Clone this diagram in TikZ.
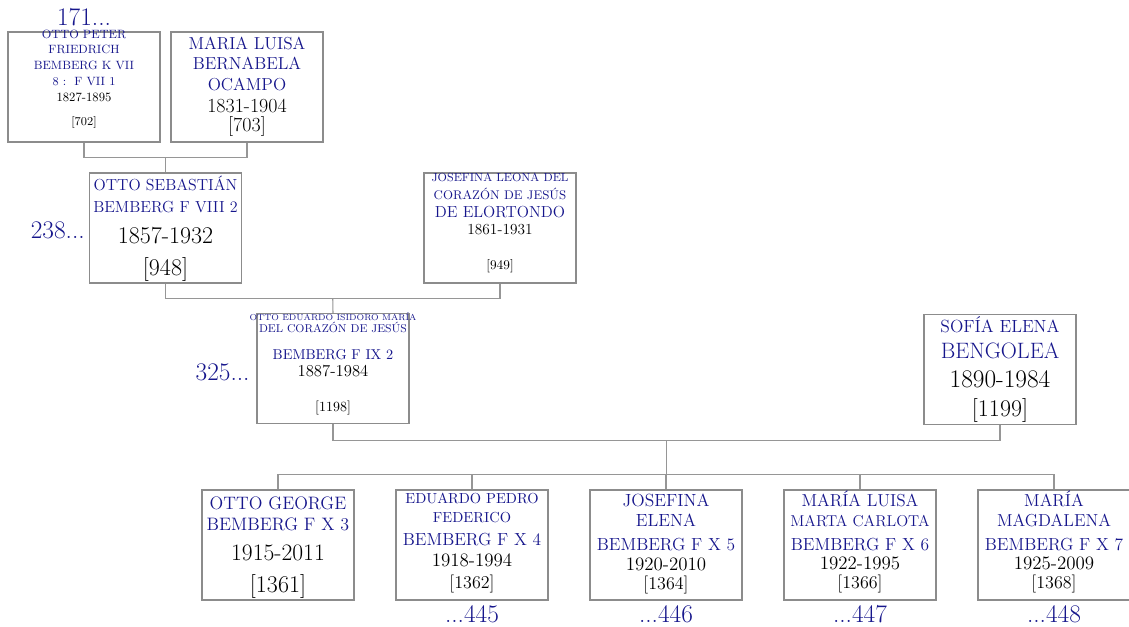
\documentclass[tikz,border=0pt]{standalone}
\usepackage{xcolor}
\usepackage{tikz}
\usetikzlibrary{positioning, calc}

\definecolor{nameblue}{RGB}{22,22,140}
\definecolor{boxgray}{RGB}{140,140,140}
\definecolor{linkgray}{RGB}{150,150,150}

\newcommand{\fsz}[1]{\fontsize{#1}{#1}\selectfont}
\newcommand{\nm}[2]{{\fsz{#1}\color{nameblue}#2}}
\newcommand{\dt}[2]{{\fsz{#1}#2}}
\newcommand{\tightlines}{\baselineskip=0pt\lineskip=0pt\lineskiplimit=-\maxdimen}

\begin{document}
\begin{tikzpicture}[
    x=0.75pt, y=-0.75pt,
    node distance=30.7pt,
    personbox/.style={draw=boxgray, line width=0.8pt, fill=white, minimum width=114pt, minimum height=82.5pt, inner sep=0pt},
    persontext/.style={inner sep=0pt, align=center, font=\tightlines},
    genlabel/.style={inner sep=0pt, text=nameblue, font=\fsz{19}},
    link/.style={draw=linkgray, line width=0.8pt}
]

\path[use as bounding box, fill=white] (0,0) rectangle (1129,626);

\node[personbox] (opeter) at (84,87) {};
\node[personbox] (mluisa) at (247,87) {};
\node[personbox] (osebastian) at (165.5,228) {};
\node[personbox] (jleona) at (500,228) {};
\node[personbox] (oeduardo) at (333,368.5) {};
\node[personbox] (sofia) at (1000,369.5) {};

\node[personbox] (ogeorge) at (278,545) {};
\node[personbox, right=of ogeorge] (epedro) {};
\node[personbox, right=of epedro] (jelena) {};
\node[personbox, right=of jelena] (mlmarta) {};
\node[personbox, right=of mlmarta] (mmagdalena) {};

\node[persontext, below=-2.9pt of opeter.north] (opeter-t) {\nm{9}{\vphantom{Í}OTTO PETER}\\[11.25pt]\nm{9}{FRIEDRICH}\\[12pt]\nm{9}{BEMBERG K VII}\\[12pt]\nm{9}{8 :\ \ F VII 1}\\[12pt]\dt{9.5}{1827-1895}\\[17.6pt]\dt{9}{[702]}};
\node[persontext, below=1.5pt of mluisa.north] (mluisa-t) {\nm{13}{\vphantom{Í}MARIA LUISA}\\[15pt]\nm{13}{BERNABELA}\\[15.75pt]\nm{13}{OCAMPO}\\[16.5pt]\dt{15}{1831-1904}\\[14pt]\dt{15}{[703]}};
\node[persontext, below=2.8pt of osebastian.north] (osebastian-t) {\nm{12}{\vphantom{Í}OTTO SEBASTIÁN}\\[16.5pt]\nm{12}{BEMBERG F VIII 2}\\[22.8pt]\dt{18}{1857-1932}\\[24.3pt]\dt{18}{[948]}};
\node[persontext, below=-1.3pt of jleona.north] (jleona-t) {\nm{8.8}{\vphantom{Í}JOSEFINA LEONA DEL}\\[13pt]\nm{9.4}{CORAZÓN DE JESÚS}\\[13.6pt]\nm{12}{DE ELORTONDO}\\[13.2pt]\dt{11.5}{1861-1931}\\[26.3pt]\dt{10}{[949]}};
\node[persontext, below=-0.75pt of oeduardo.north] (oeduardo-t) {\nm{6.5}{\vphantom{Í}OTTO EDUARDO ISIDORO MARÍA}\\[9.6pt]\nm{8.5}{DEL CORAZÓN DE JESÚS}\\[19.6pt]\nm{10.7}{BEMBERG F IX 2}\\[13.1pt]\dt{12.5}{1887-1984}\\[26.1pt]\dt{10.5}{[1198]}};
\node[persontext, below=2.1pt of sofia.north] (sofia-t) {\nm{13.2}{\vphantom{Í}SOFÍA ELENA}\\[19.2pt]\nm{16.7}{BENGOLEA}\\[21.5pt]\dt{19}{1890-1984}\\[21.8pt]\dt{18}{[1199]}};

\node[persontext, below=2.6pt of ogeorge.north] (ogeorge-t) {\nm{13.5}{\vphantom{Í}OTTO GEORGE}\\[15.75pt]\nm{13.5}{BEMBERG F X 3}\\[22.2pt]\dt{17.7}{1915-2011}\\[24.4pt]\dt{18}{[1361]}};
\node[persontext, below=0.4pt of epedro.north] (epedro-t) {\nm{10.9}{\vphantom{Í}EDUARDO PEDRO}\\[14.25pt]\nm{10.9}{FEDERICO}\\[17.3pt]\nm{13.1}{BEMBERG F X 4}\\[15.8pt]\dt{14.2}{1918-1994}\\[16.7pt]\dt{13.5}{[1362]}};
\node[persontext, below=0.6pt of jelena.north] (jelena-t) {\nm{13.2}{\vphantom{Í}JOSEFINA}\\[15pt]\nm{13.2}{ELENA}\\[18pt]\nm{13.1}{BEMBERG F X 5}\\[15.1pt]\dt{14.2}{1920-2010}\\[13.9pt]\dt{13.5}{[1364]}};
\node[persontext, below=0.7pt of mlmarta.north] (mlmarta-t) {\nm{13}{\vphantom{Í}MARÍA LUISA}\\[15.3pt]\nm{11.8}{MARTA CARLOTA}\\[17.8pt]\nm{13.1}{BEMBERG F X 6}\\[14.3pt]\dt{14.2}{1922-1995}\\[14.5pt]\dt{13.5}{[1366]}};
\node[persontext, below=0.7pt of mmagdalena.north] (mmagdalena-t) {\nm{13}{\vphantom{Í}MARÍA}\\[15.3pt]\nm{13}{MAGDALENA}\\[17.8pt]\nm{13.1}{BEMBERG F X 7}\\[14.3pt]\dt{14.2}{1925-2009}\\[14.5pt]\dt{13.5}{[1368]}};

\node[genlabel, above=3.75pt of opeter] (gen171) {171...};
\node[genlabel, left=3pt of osebastian, yshift=-2pt] (gen238) {238...};
\node[genlabel, left=5pt of oeduardo, yshift=-2.5pt] (gen325) {325...};
\node[genlabel, below=3.5pt of epedro] (desc445) {...445};
\node[genlabel, below=3.5pt of jelena] (desc446) {...446};
\node[genlabel, below=3.5pt of mlmarta] (desc447) {...447};
\node[genlabel, below=3.5pt of mmagdalena] (desc448) {...448};

\coordinate (fam1) at ($(opeter.south)!0.5!(mluisa.south)+(0,15)$);
\draw[link] (opeter.south) |- (fam1) -| (mluisa.south);
\draw[link] (fam1) -- (osebastian.north);

\coordinate (fam2) at ($(osebastian.south)!0.5!(jleona.south)+(0,15)$);
\draw[link] (osebastian.south) |- (fam2) -| (jleona.south);
\draw[link] (fam2) -- (oeduardo.north);

\coordinate (fam3) at ($(oeduardo.south)!0.5!(sofia.south)+(0,16)$);
\draw[link] (oeduardo.south) |- (fam3) -| (sofia.south);
\coordinate (kids) at ($(fam3)+(0,34)$);
\draw[link] (fam3) -- (kids);
\foreach \k in {ogeorge, epedro, jelena, mlmarta, mmagdalena}
    \draw[link] (kids) -| (\k.north);

\end{tikzpicture}
\end{document}
